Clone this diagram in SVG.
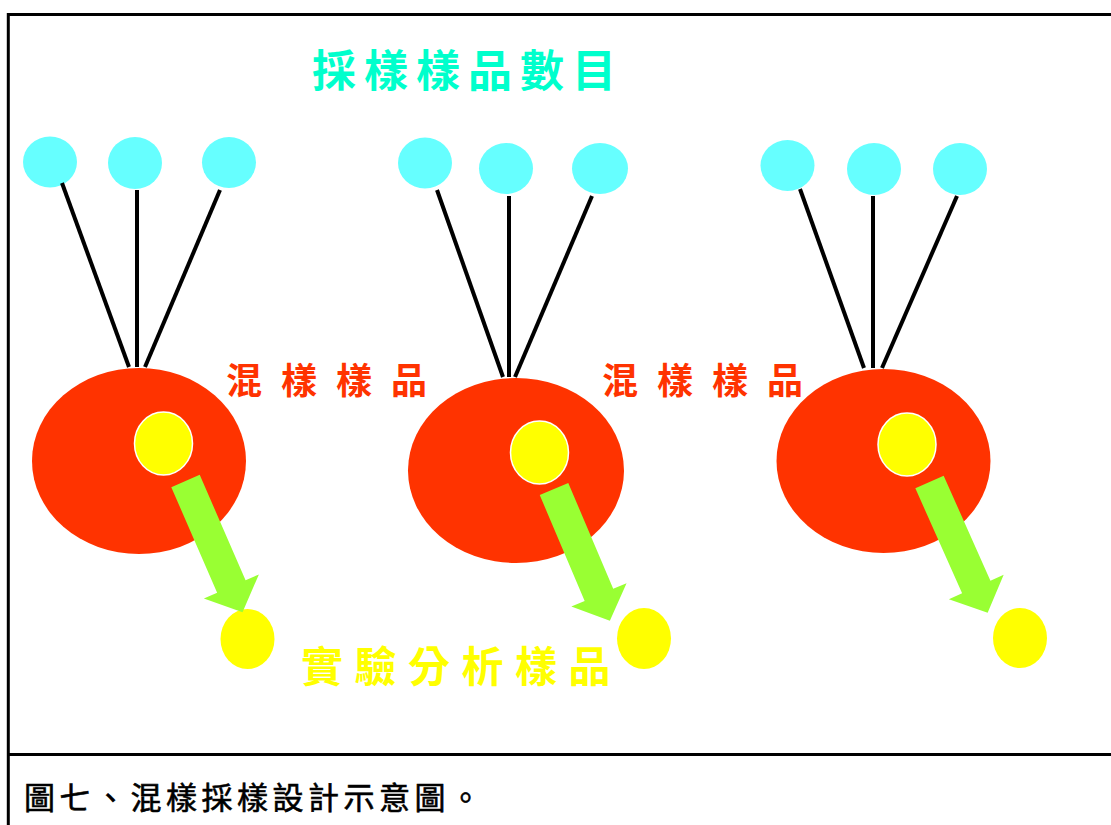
<svg xmlns="http://www.w3.org/2000/svg" width="1111" height="825" viewBox="0 0 1111 825">
<style>
.frame{stroke:#000;stroke-width:3;fill:none}
.src{fill:#66FFFF}
.mix{fill:#FF3300}
.sub{fill:#FFFF00;stroke:#fff;stroke-width:1.5}
.out{fill:#FFFF00}
.link{stroke:#000;stroke-width:4;fill:none}
.arrow{fill:#99FF33}
.cjk{font-family:"Noto Sans CJK TC","Noto Sans CJK SC",sans-serif;font-weight:bold}
.title{fill:#00FFCC;font-size:44px;letter-spacing:8px}
.mixlbl{fill:#FF3300;font-size:36px;letter-spacing:19px}
.outlbl{fill:#FFFF00;font-size:42px;letter-spacing:11.5px}
.cap{fill:#000;font-size:31px;letter-spacing:4.5px;font-weight:normal;stroke:#000;stroke-width:0.6}
</style>
<defs>
<polygon id="arr" points="-15.5,0 15.5,0 15.5,115 30,115 0,143 -30,115 -15.5,115"/>
</defs>
<rect width="1111" height="825" fill="#fff"/>
<g id="frame">
<line class="frame" x1="7" y1="14.5" x2="1111" y2="14.5"/>
<line class="frame" x1="8.3" y1="13" x2="8.3" y2="825"/>
<line class="frame" x1="7" y1="754.5" x2="1111" y2="754.5"/>
</g>
<g id="group1">
<ellipse class="src" cx="50" cy="162" rx="27" ry="25.5"/>
<ellipse class="src" cx="135" cy="163" rx="27" ry="26"/>
<ellipse class="src" cx="229" cy="162.5" rx="27" ry="25.5"/>
<ellipse class="mix" cx="139" cy="461" rx="107" ry="93"/>
<ellipse class="sub" cx="163.5" cy="443.5" rx="29" ry="31.5"/>
<ellipse class="out" cx="247.5" cy="639" rx="27" ry="30"/>
</g>
<g id="group2">
<ellipse class="src" cx="425" cy="163" rx="27" ry="25.5"/>
<ellipse class="src" cx="506" cy="168.5" rx="27" ry="25.5"/>
<ellipse class="src" cx="600" cy="168.5" rx="28" ry="25.5"/>
<ellipse class="mix" cx="516" cy="470.5" rx="108" ry="92.5"/>
<ellipse class="sub" cx="539.5" cy="452.5" rx="29" ry="31.5"/>
<ellipse class="out" cx="644" cy="638.5" rx="27" ry="30.5"/>
</g>
<g id="group3">
<ellipse class="src" cx="787.5" cy="165.5" rx="27" ry="25.5"/>
<ellipse class="src" cx="874" cy="169" rx="27" ry="26"/>
<ellipse class="src" cx="960" cy="169" rx="27" ry="26"/>
<ellipse class="mix" cx="883.5" cy="461" rx="107" ry="92"/>
<ellipse class="sub" cx="907" cy="444.5" rx="29" ry="31.5"/>
<ellipse class="out" cx="1020" cy="638" rx="27" ry="30"/>
</g>
<g id="connectors">
<line class="link" x1="62" y1="183" x2="129" y2="367"/>
<line class="link" x1="137" y1="190" x2="137" y2="367"/>
<line class="link" x1="220" y1="190" x2="145" y2="367"/>
<line class="link" x1="437" y1="190" x2="503" y2="377"/>
<line class="link" x1="509" y1="196" x2="509" y2="377"/>
<line class="link" x1="592" y1="196" x2="515" y2="377"/>
<line class="link" x1="800" y1="189" x2="864" y2="368"/>
<line class="link" x1="873" y1="196" x2="873" y2="368"/>
<line class="link" x1="957" y1="196" x2="882" y2="368"/>
<use href="#arr" class="arrow" transform="translate(185.5,481) rotate(-23.5)"/>
<use href="#arr" class="arrow" transform="translate(554,489) rotate(-23)"/>
<use href="#arr" class="arrow" transform="translate(929.5,482) rotate(-24)"/>
</g>
<g id="labels">
<text class="cjk title" x="312" y="87">採樣樣品數目</text>
<text class="cjk mixlbl" x="226" y="394">混樣樣品</text>
<text class="cjk mixlbl" x="602" y="394">混樣樣品</text>
<text class="cjk outlbl" x="301" y="682">實驗分析樣品</text>
<text class="cjk cap" x="24" y="809">圖七、混樣採樣設計示意圖。</text>
</g>
</svg>
